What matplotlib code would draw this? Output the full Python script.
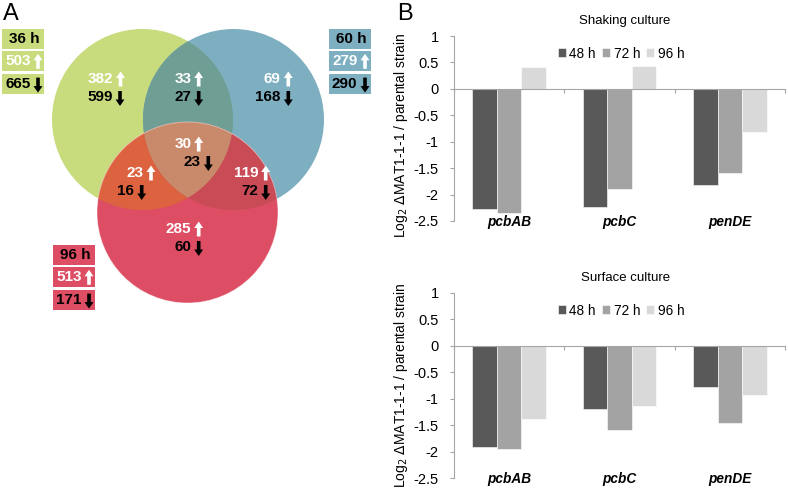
import numpy as np
import matplotlib.pyplot as plt
from matplotlib.patches import Circle, Polygon, Rectangle, FancyArrow

plt.rcParams['font.family'] = ['Liberation Sans', 'DejaVu Sans']

# ---- panel B data (log2 ratio)
genes = ['pcbAB', 'pcbC', 'penDE']
times = ['48 h', '72 h', '96 h']
shaking_48 = [-2.28, -2.23, -1.82]
shaking_72 = [-2.35, -1.89, -1.60]
shaking_96 = [0.42, 0.44, -0.81]
surface_48 = [-1.91, -1.19, -0.78]
surface_72 = [-1.95, -1.60, -1.45]
surface_96 = [-1.39, -1.13, -0.93]
bar_colors = ['#595959', '#a3a3a3', '#d9d9d9']

# ---- panel A data (numbers of up / down regulated genes)
sets = ['36 h', '60 h', '96 h']
set_up = [503, 279, 513]
set_down = [665, 290, 171]
regions = ['36', '36&60', '60', '36&60&96', '36&96', '60&96', '96']
region_up = [382, 33, 69, 30, 23, 119, 285]
region_down = [599, 27, 168, 23, 16, 72, 60]

fig = plt.figure(figsize=(7.88, 4.92), dpi=100)

# ================= Venn (pixel coordinates) =================
axv = fig.add_axes([0, 0, 395 / 788, 1])
axv.set_xlim(0, 395)
axv.set_ylim(492, 0)
axv.set_aspect('equal')
axv.axis('off')

R = 90.5
centers = [(142.5, 119.5), (233.5, 119.5), (187.5, 212.5)]
circ_cols = ['#c8dc7e', '#7dafc1', '#dd4e64']


def inside(p, c):
    return np.hypot(p[:, 0] - c[0], p[:, 1] - c[1]) <= R + 1e-9


def region_poly(idx):
    pts = []
    t = np.linspace(0, 2 * np.pi, 3000)
    for i in idx:
        c = centers[i]
        p = np.column_stack([c[0] + R * np.cos(t), c[1] + R * np.sin(t)])
        keep = np.ones(len(p), bool)
        for j in idx:
            if j != i:
                keep &= inside(p, centers[j])
        pts.append(p[keep])
    pts = np.vstack(pts)
    m = pts.mean(axis=0)
    order = np.argsort(np.arctan2(pts[:, 1] - m[1], pts[:, 0] - m[0]))
    return pts[order]


for c, col in zip(centers, circ_cols):
    axv.add_patch(Circle(c, R, facecolor=col, edgecolor='none'))
for idx, col in [((0, 1), '#6f9e94'), ((0, 2), '#dd623f'), ((1, 2), '#c84b55'),
                 ((0, 1, 2), '#c88a6b')]:
    axv.add_patch(Polygon(region_poly(idx), closed=True, facecolor=col,
                          edgecolor='none'))
axv.add_patch(Circle(centers[2], R, facecolor='none', edgecolor='white',
                     lw=0.6, alpha=0.5))


def arrow(x, y, up, col):
    h = 15
    if up:
        a = FancyArrow(x, y + h / 2, 0, -h, width=3.6, head_width=9,
                       head_length=6.5, length_includes_head=True,
                       color=col, lw=0)
    else:
        a = FancyArrow(x, y - h / 2, 0, h, width=3.6, head_width=9,
                       head_length=6.5, length_includes_head=True,
                       color=col, lw=0)
    axv.add_patch(a)


def label(n, ax_x, y, up, col):
    axv.text(ax_x - 7.5, y, str(n), ha='right', va='center', fontsize=11,
             fontweight='bold', color=col)
    arrow(ax_x, y + (0 if up else 1.5), up, col)


# arrow x positions (up row, down row) and row y for each region
reg_pos = [(120.5, 120.0, 79), (198.7, 198.7, 79), (288.3, 288.3, 79),
           (198.7, 208.3, 144), (151.0, 141.7, 173), (265.7, 265.7, 173),
           (198.7, 198.7, 229)]
for up_n, dn_n, (xu, xd, y) in zip(region_up, region_down, reg_pos):
    label(up_n, xu, y, True, 'white')
    label(dn_n, xd, y + 18, False, 'black')

# legend boxes for each set
box_pos = [(2, 29, circ_cols[0]), (329, 29, circ_cols[1]), (53, 245, circ_cols[2])]
for name, up_n, dn_n, (bx, by, col) in zip(sets, set_up, set_down, box_pos):
    w = 42
    for k in range(3):
        axv.add_patch(Rectangle((bx, by + k * 22.3), w, 20, facecolor=col,
                                edgecolor='none'))
    axv.text(bx + w - 4, by + 10, name, ha='right', va='center', fontsize=11,
             fontweight='bold', color='black')
    label(up_n, bx + w - 6, by + 32.3, True, 'white')
    label(dn_n, bx + w - 6, by + 54.6, False, 'black')

fig.text(3 / 788, 1 - 14 / 492, 'A', fontsize=17, va='center', ha='left')
fig.text(397 / 788, 1 - 14 / 492, 'B', fontsize=17, va='center', ha='left')


# ================= bar charts =================
def bar_panel(rect, vals, title):
    ax = fig.add_axes(rect)
    x = np.arange(len(genes))
    w = 0.222
    for k, (v, col, lab) in enumerate(zip(vals, bar_colors, times)):
        ax.bar(x + (k - 1) * w, v, width=w, color=col, label=lab,
               edgecolor='white', linewidth=0.4)
    ax.set_xlim(-0.5, 2.5)
    ax.set_ylim(-2.5, 1)
    ax.set_yticks(np.arange(-2.5, 1.01, 0.5))
    ax.set_yticklabels(['-2.5', '-2', '-1.5', '-1', '-0.5', '0', '0.5', '1'])
    ax.set_xticks([-0.5, 0.5, 1.5, 2.5])
    ax.set_xticklabels([])
    for s in ['top', 'right']:
        ax.spines[s].set_visible(False)
    ax.spines['bottom'].set_position(('data', 0))
    ax.spines['left'].set_color('#a6a6a6')
    ax.spines['bottom'].set_color('#a6a6a6')
    ax.spines['left'].set_linewidth(0.8)
    ax.spines['bottom'].set_linewidth(0.8)
    ax.tick_params(axis='y', colors='#a6a6a6', labelcolor='black',
                   labelsize=10.5, length=3, width=0.8, pad=8)
    ax.tick_params(axis='x', colors='#a6a6a6', length=3, width=0.8)
    for xi, g in zip(x, genes):
        ax.text(xi, -2.52, g, ha='center', va='center', fontsize=9.8,
                fontweight='bold', fontstyle='italic')
    ax.set_title(title, fontsize=9.5, x=0.517, y=1.065, pad=0)
    ax.legend(loc='center', bbox_to_anchor=(0.505, 0.905), ncol=3,
              frameon=False, fontsize=9.8, handlelength=0.6,
              handleheight=0.6, handletextpad=0.25, columnspacing=0.45,
              borderpad=0)
    return ax


bar_panel([454 / 788, 1 - 221 / 492, 331 / 788, 185 / 492],
          [shaking_48, shaking_72, shaking_96], 'Shaking culture')
bar_panel([454 / 788, 1 - 478 / 492, 331 / 788, 185 / 492],
          [surface_48, surface_72, surface_96], 'Surface culture')

ylab = r'Log$_2$ $\Delta$MAT1-1-1 / parental strain'
fig.text(400.5 / 788, 1 - 135 / 492, ylab, rotation=90, ha='center',
         va='center', fontsize=10)
fig.text(400.5 / 788, 1 - 385 / 492, ylab, rotation=90, ha='center',
         va='center', fontsize=10)

fig.savefig('out.png', dpi=100)
